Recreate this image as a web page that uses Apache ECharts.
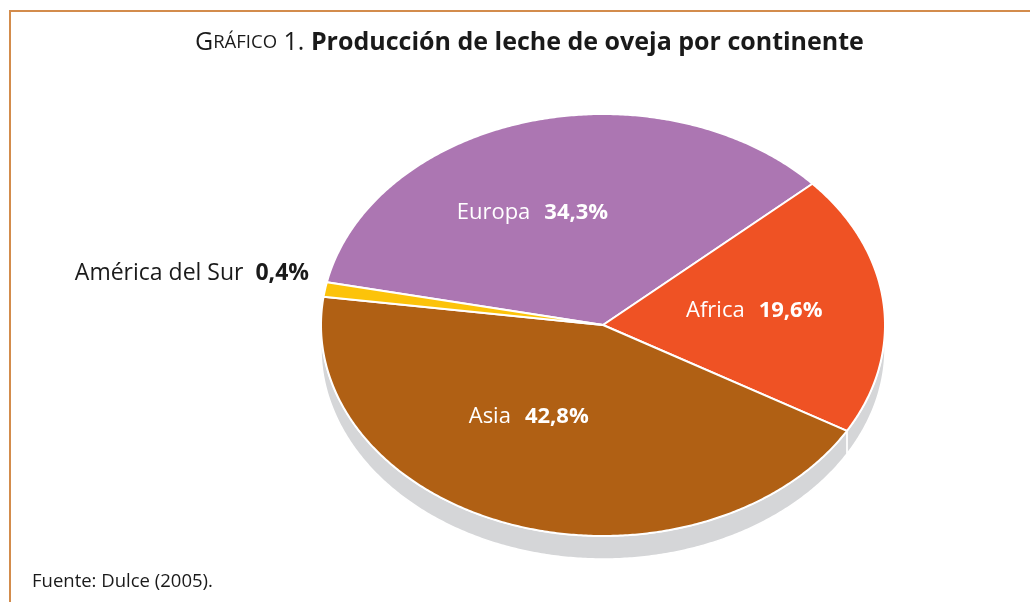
<!DOCTYPE html>
<html>
<head>
<meta charset="utf-8">
<script src="https://cdn.jsdelivr.net/npm/echarts@6/dist/echarts.min.js"></script>
<style>
  html, body { margin: 0; padding: 0; background: #fff; }
  #chart { width: 1030px; height: 602px; }
</style>
</head>
<body>
<div id="chart"></div>
<script>
// data
const continents = ['Europa', 'Africa', 'Asia', 'América del Sur'];
const shares = [34.3, 19.6, 42.8, 0.4];
const sliceColors = ['#ac76b2', '#ef5224', '#b06014', '#fcc30a'];

// label nudges (px) so text sits where the original put it
const labelNudge = [[-30, 0], [-3, -2], [-24, -18], [0, 0]];

const FONT = 'Open Sans';
const CX = 603, CY = 325, RX = 282, RY = 211, DEPTH = 23;
const START = 168.3; // degrees, slices run clockwise
const MIN_ANGLE = 4;  // like pie minAngle, keeps the tiny slice visible

// angles per slice, pie-style with a minimum angle
const total = shares.reduce((a, b) => a + b, 0);
const small = shares.filter(v => v / total * 360 < MIN_ANGLE);
const bigTotal = shares.filter(v => v / total * 360 >= MIN_ANGLE).reduce((a, b) => a + b, 0);
const spare = 360 - small.length * MIN_ANGLE;
let acc = START;
const sliceData = shares.map((v, i) => {
  const span = v / total * 360 < MIN_ANGLE ? MIN_ANGLE : v / bigTotal * spare;
  const s = acc;
  const e = acc - span;
  acc = e;
  return [v, s, e, i];
});

function pt(a, dy) {
  const r = a * Math.PI / 180;
  return [CX + RX * Math.cos(r), CY - RY * Math.sin(r) + (dy || 0)];
}
function arc(a1, a2, dy) {
  const n = Math.max(2, Math.ceil(Math.abs(a1 - a2) / 0.5));
  const pts = [];
  for (let i = 0; i <= n; i++) pts.push(pt(a1 + (a2 - a1) * i / n, dy));
  return pts;
}
const fmt = v => v.toFixed(1).replace('.', ',') + '%';

function renderSlice(params, api) {
  const s = api.value(1), e = api.value(2), i = api.value(3);
  const children = [];

  // side wall (only the front half shows)
  const hi = Math.min(s, 0), lo = Math.max(e, -180);
  if (hi > lo) {
    children.push({
      type: 'polygon',
      shape: { points: arc(hi, lo, 0).concat(arc(lo, hi, DEPTH)) },
      style: { fill: '#d5d6d8', stroke: '#fff', lineWidth: 1.5 }
    });
  }

  // top face
  children.push({
    type: 'polygon',
    shape: { points: [[CX, CY]].concat(arc(s, e, 0)) },
    style: { fill: sliceColors[i], stroke: '#fff', lineWidth: 2, lineJoin: 'round' }
  });

  const mid = (s + e) / 2;
  const text = '{n|' + continents[i] + '}{b|' + fmt(api.value(0)) + '}';
  if (api.value(0) >= 5) {
    const m = mid * Math.PI / 180;
    children.push({
      type: 'text',
      x: CX + RX * 0.55 * Math.cos(m) + labelNudge[i][0],
      y: CY - RY * 0.55 * Math.sin(m) + labelNudge[i][1],
      style: {
        text: text, fill: '#fff', align: 'center', verticalAlign: 'middle',
        rich: {
          n: { fontFamily: FONT, fontSize: 22, color: '#fff' },
          b: { fontFamily: FONT, fontSize: 22, fontWeight: 'bold', color: '#fff', padding: [0, 0, 0, 14] }
        }
      }
    });
  } else {
    const p = pt(mid, 0);
    children.push({
      type: 'text',
      x: p[0] - 16 + labelNudge[i][0],
      y: p[1] - 16 + labelNudge[i][1],
      style: {
        text: text, fill: '#1a1a1a', align: 'right', verticalAlign: 'middle',
        rich: {
          n: { fontFamily: FONT, fontSize: 23, color: '#1a1a1a' },
          b: { fontFamily: FONT, fontSize: 23, fontWeight: 'bold', color: '#1a1a1a', padding: [0, 0, 0, 12] }
        }
      }
    });
  }
  return { type: 'group', children: children };
}

const chart = echarts.init(document.getElementById('chart'));
chart.setOption({
  animation: false,
  title: {
    text: '{g|G}{s|RÁFICO}{g| 1. }{b|Producción de leche de oveja por continente}',
    left: 190,
    top: 25,
    textStyle: {
      rich: {
        g: { fontFamily: FONT, fontSize: 25, fontWeight: 'normal', color: '#1a1a1a' },
        s: { fontFamily: FONT, fontSize: 18.5, fontWeight: 'normal', color: '#1a1a1a' },
        b: { fontFamily: FONT, fontSize: 25, fontWeight: 'bold', color: '#1a1a1a' }
      }
    }
  },
  graphic: [
    {
      type: 'polyline',
      shape: { points: [[10, 602], [10, 11], [1030, 11]] },
      style: { stroke: '#d38c4c', lineWidth: 2, fill: null }
    },
    {
      type: 'text',
      left: 32,
      top: 572,
      style: { text: 'Fuente: Dulce (2005).', fontFamily: FONT, fontSize: 18.5, fill: '#1a1a1a' }
    }
  ],
  series: [{
    type: 'custom',
    coordinateSystem: 'none',
    renderItem: renderSlice,
    data: sliceData
  }]
});
</script>
</body>
</html>
